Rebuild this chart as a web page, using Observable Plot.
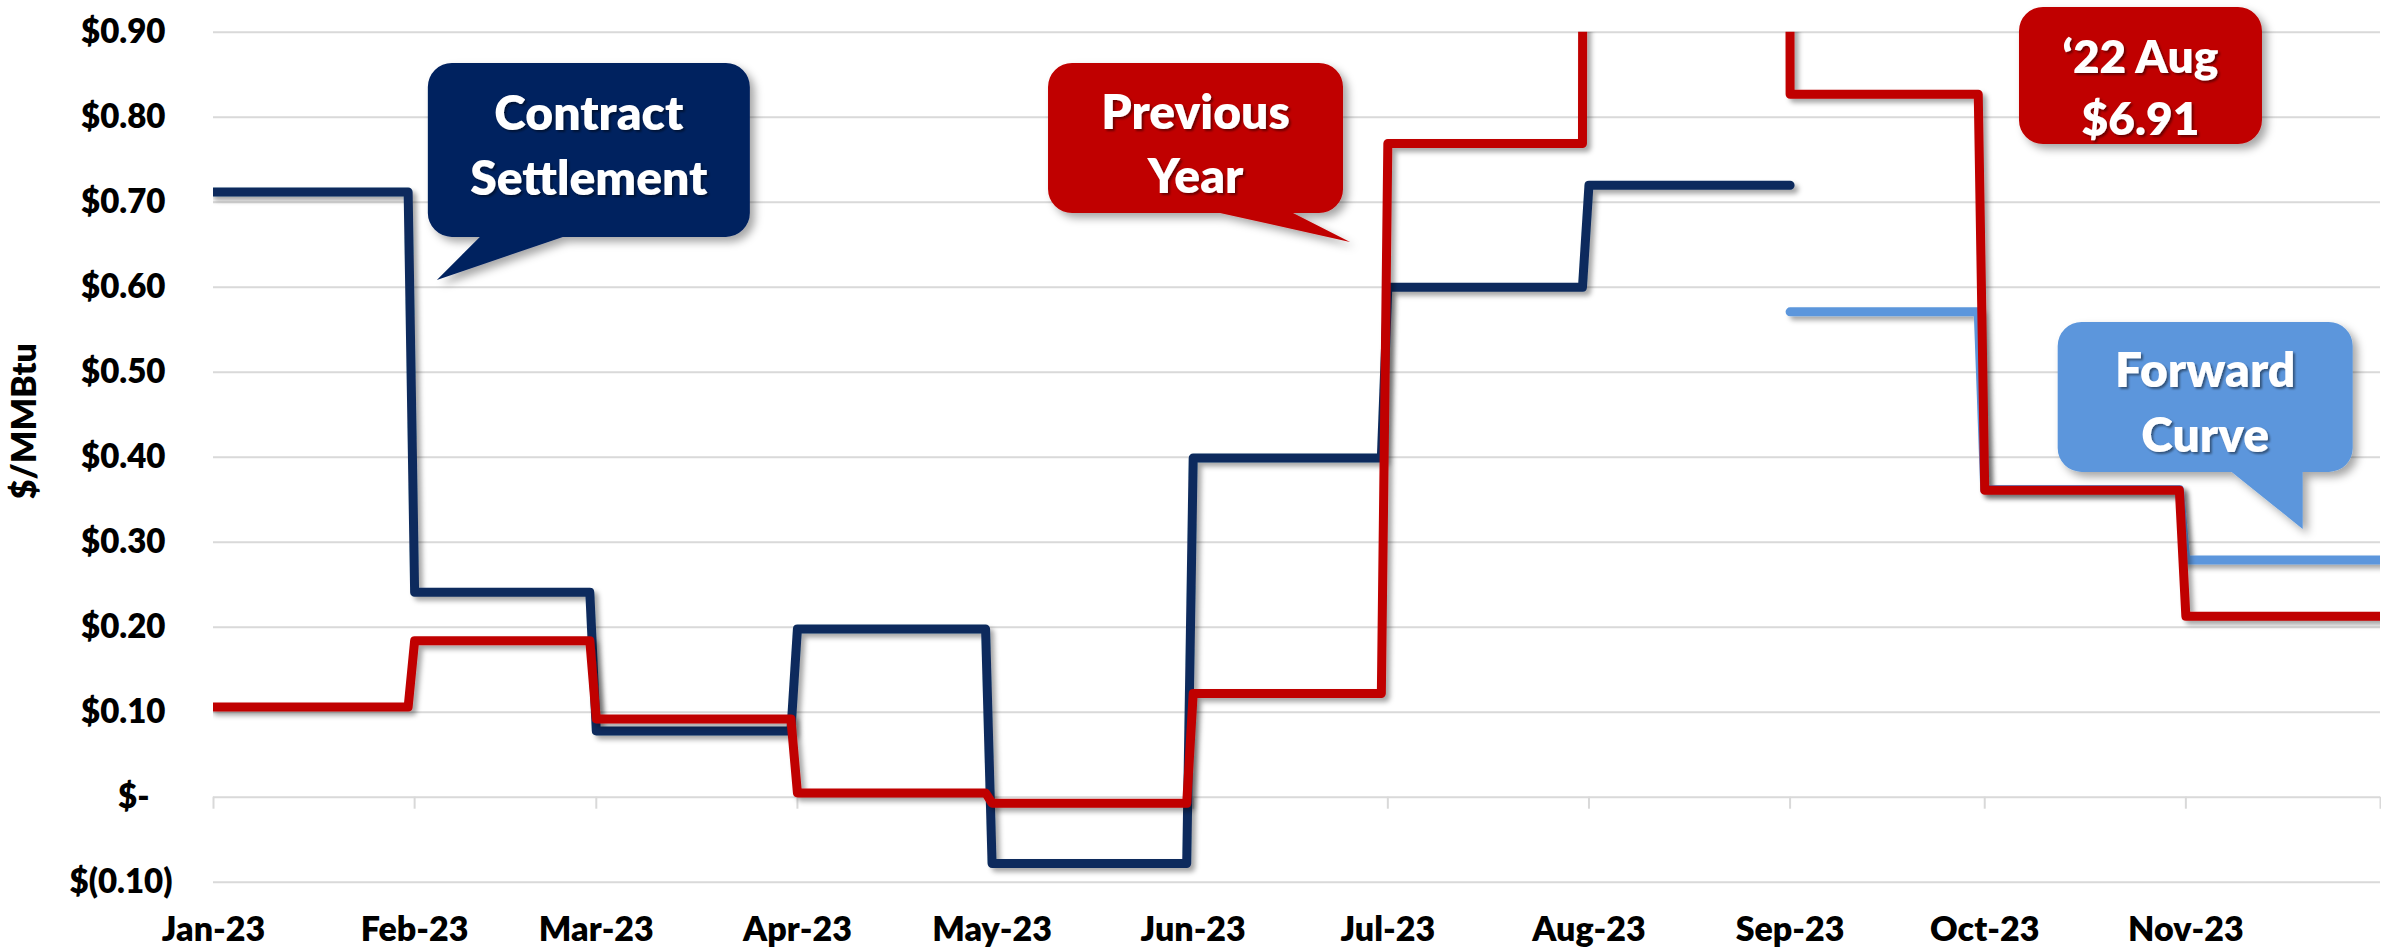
<!DOCTYPE html>
<html>
<head>
<meta charset="utf-8">
<script src="https://cdn.jsdelivr.net/npm/d3@7"></script>
<script src="https://cdn.jsdelivr.net/npm/@observablehq/plot@0.6"></script>
<style>
  html, body { margin: 0; padding: 0; background: #ffffff; }
  #chart svg { display: block; }
</style>
</head>
<body>
<div id="chart"></div>
<script>
// ---------------- DATA ----------------
const monthStarts = ["2023-01-01","2023-02-01","2023-03-01","2023-04-01","2023-05-01","2023-06-01",
                     "2023-07-01","2023-08-01","2023-09-01","2023-10-01","2023-11-01"];
const axisEnd = "2023-12-01";
const monthLabels = ["Jan-23","Feb-23","Mar-23","Apr-23","May-23","Jun-23",
                     "Jul-23","Aug-23","Sep-23","Oct-23","Nov-23"];

const yTicks = [-0.10, 0, 0.10, 0.20, 0.30, 0.40, 0.50, 0.60, 0.70, 0.80, 0.90];
const yTickLabels = ["$(0.10)","$-","$0.10","$0.20","$0.30","$0.40","$0.50","$0.60","$0.70","$0.80","$0.90"];
const yTitle = "$/MMBtu";

// $/MMBtu by month (null = no value)
const contractSettlement = [0.712, 0.241, 0.078, 0.198, -0.078, 0.399, 0.600, 0.720, null, null, null];
const previousYear       = [0.106, 0.184, 0.092, 0.005, -0.007, 0.122, 0.769, 6.91, 0.827, 0.361, 0.213];
const forwardCurve       = [null, null, null, null, null, null, null, null, 0.571, 0.362, 0.279];

const calloutTexts = {
  contract: ["Contract", "Settlement"],
  previous: ["Previous", "Year"],
  aug22: ["\u201822 Aug", "$6.91"],
  forward: ["Forward", "Curve"]
};

// ---------------- STYLE / LAYOUT ----------------
const colors = { contract: "#0b2b5d", previous: "#c00000", forward: "#5b96dc",
                 contractBox: "#03215f", previousBox: "#c00000", forwardBox: "#5b96dc",
                 grid: "#d9d9d9" };

// callout anchors in data space (tip of the pointer / centre of box), geometry in px relative to it
const callouts = [
  { key: "contract", fill: colors.contractBox, date: "2023-02-04T12:00:00Z", value: 0.608,
    box: [-9, -217, 313, -43], tail: [43, 126], cx: 152, baselines: [-150, -85], fontSize: 48 },
  { key: "previous", fill: colors.previousBox, date: "2023-06-25T06:00:00Z", value: 0.6526,
    box: [-302, -179, -7, -29], tail: [-130, -57], cx: -154.5, baselines: [-113, -49], fontSize: 48 },
  { key: "aug22", fill: colors.previousBox, date: "2023-10-25T02:00:00Z", value: 0.8485,
    box: [-121.5, -68.5, 121.5, 68.5], tail: null, cx: 0, baselines: [-2.5, 59.5], fontSize: 46 },
  { key: "forward", fill: colors.forwardBox, date: "2023-11-19T02:00:00Z", value: 0.315,
    box: [-245, -207, 50, -57], tail: [-71, 0], cx: -97.5, baselines: [-142, -77], fontSize: 48 }
];

// ---------------- BUILD ----------------
const parseDay = d3.utcParse("%Y-%m-%d");
const starts = monthStarts.map(parseDay);
const endDate = parseDay(axisEnd);
const labelOf = new Map(starts.map((d, i) => [+d, monthLabels[i]]));
const yLabelOf = new Map(yTicks.map((v, i) => [v.toFixed(2), yTickLabels[i]]));

function stepPoints(values) {
  const pts = [];
  values.forEach((v, i) => {
    if (v == null) return;
    const next = i + 1 < starts.length ? starts[i + 1] : endDate;
    const hasNext = i + 1 < values.length && values[i + 1] != null;
    pts.push({ date: starts[i], value: v });
    pts.push({ date: hasNext ? d3.utcDay.offset(next, -1) : next, value: v });
  });
  return pts;
}

const fontStack = "Lato, 'Open Sans', 'Noto Sans', sans-serif";
const fw = 800;

function calloutMark(index, scales) {
  const g = d3.create("svg:g");
  for (const c of callouts) {
    const ax = scales.x(new Date(c.date));
    const ay = scales.y(c.value);
    const [l0, t0, r0, b0] = c.box;
    const l = ax + l0, t = ay + t0, r = ax + r0, b = ay + b0;
    const rad = 24;
    let p = `M${l + rad},${t}H${r - rad}A${rad},${rad} 0 0 1 ${r},${t + rad}V${b - rad}A${rad},${rad} 0 0 1 ${r - rad},${b}`;
    if (c.tail) {
      p += `H${ax + c.tail[1]}L${ax},${ay}L${ax + c.tail[0]},${b}`;
    }
    p += `H${l + rad}A${rad},${rad} 0 0 1 ${l},${b - rad}V${t + rad}A${rad},${rad} 0 0 1 ${l + rad},${t}Z`;
    g.append("path").attr("filter", "url(#box-shadow)").attr("d", p).attr("fill", c.fill);
    const lines = calloutTexts[c.key];
    lines.forEach((txt, i) => {
      g.append("text")
        .attr("filter", "url(#text-shadow)")
        .attr("x", ax + c.cx)
        .attr("y", ay + c.baselines[i])
        .attr("text-anchor", "middle")
        .attr("fill", "#ffffff")
        .attr("font-family", fontStack)
        .attr("font-weight", fw)
        .attr("font-size", c.fontSize)
        .text(txt);
    });
  }
  return g.node();
}

const lineOpts = { x: "date", y: "value", strokeWidth: 9, clip: true,
                   strokeLinecap: "round", strokeLinejoin: "round" };

const chart = Plot.plot({
  width: 2381,
  height: 949,
  marginLeft: 213,
  marginRight: 1,
  marginTop: 31.7,
  marginBottom: 67.3,
  style: { fontFamily: fontStack, fontWeight: fw, fontSize: "33px", color: "#000", background: "#fff", overflow: "visible" },
  x: { type: "utc", domain: [starts[0], endDate], axis: null },
  y: { domain: [-0.10, 0.90], axis: null },
  marks: [
    Plot.gridY(yTicks, { stroke: colors.grid, strokeOpacity: 1, strokeWidth: 2 }),
    Plot.ruleX([...starts, endDate], { x: d => d, y1: () => 0, y2: () => 0, insetBottom: -12,
                                       stroke: colors.grid, strokeWidth: 2 }),
    Plot.axisX(starts, { tickFormat: d => labelOf.get(+d), tickSize: 0, tickPadding: 35,
                         fontSize: 34, label: null }),
    Plot.text(yTicks.filter(v => v > 0), { frameAnchor: "left", y: d => d, text: d => yLabelOf.get(d.toFixed(2)),
                         textAnchor: "end", dx: -48, fontSize: 33 }),
    Plot.text(yTicks.filter(v => v === 0), { frameAnchor: "left", y: d => d, text: d => yLabelOf.get(d.toFixed(2)),
                         textAnchor: "end", dx: -64, fontSize: 33 }),
    Plot.text(yTicks.filter(v => v < 0), { frameAnchor: "left", y: d => d, text: d => yLabelOf.get(d.toFixed(2)),
                         textAnchor: "end", dx: -41, fontSize: 33 }),
    Plot.text([yTitle], { frameAnchor: "left", text: d => d, rotate: -90, dx: -188, dy: -36,
                          fontSize: 34, textAnchor: "middle" }),
    Plot.line(stepPoints(forwardCurve), { ...lineOpts, stroke: colors.forward }),
    Plot.line(stepPoints(contractSettlement), { ...lineOpts, stroke: colors.contract }),
    Plot.line(stepPoints(previousYear), { ...lineOpts, stroke: colors.previous }),
    calloutMark
  ]
});

// SVG filters for the Excel-like drop shadows
const defs = d3.select(chart).insert("defs", ":first-child");
function addShadow(id, dx, dy, sd, op) {
  defs.append("filter").attr("id", id).attr("x", "-20%").attr("y", "-20%").attr("width", "140%").attr("height", "140%")
    .append("feDropShadow").attr("dx", dx).attr("dy", dy).attr("stdDeviation", sd)
    .attr("flood-color", "#000").attr("flood-opacity", op);
}
addShadow("line-shadow", 4, 4, 2.5, 0.35);
addShadow("box-shadow", 5, 5, 4, 0.35);
addShadow("text-shadow", 2, 2, 1, 0.45);
d3.select(chart).selectAll('g[aria-label="line"] path').attr("filter", "url(#line-shadow)");
document.getElementById("chart").appendChild(chart);
</script>
</body>
</html>
